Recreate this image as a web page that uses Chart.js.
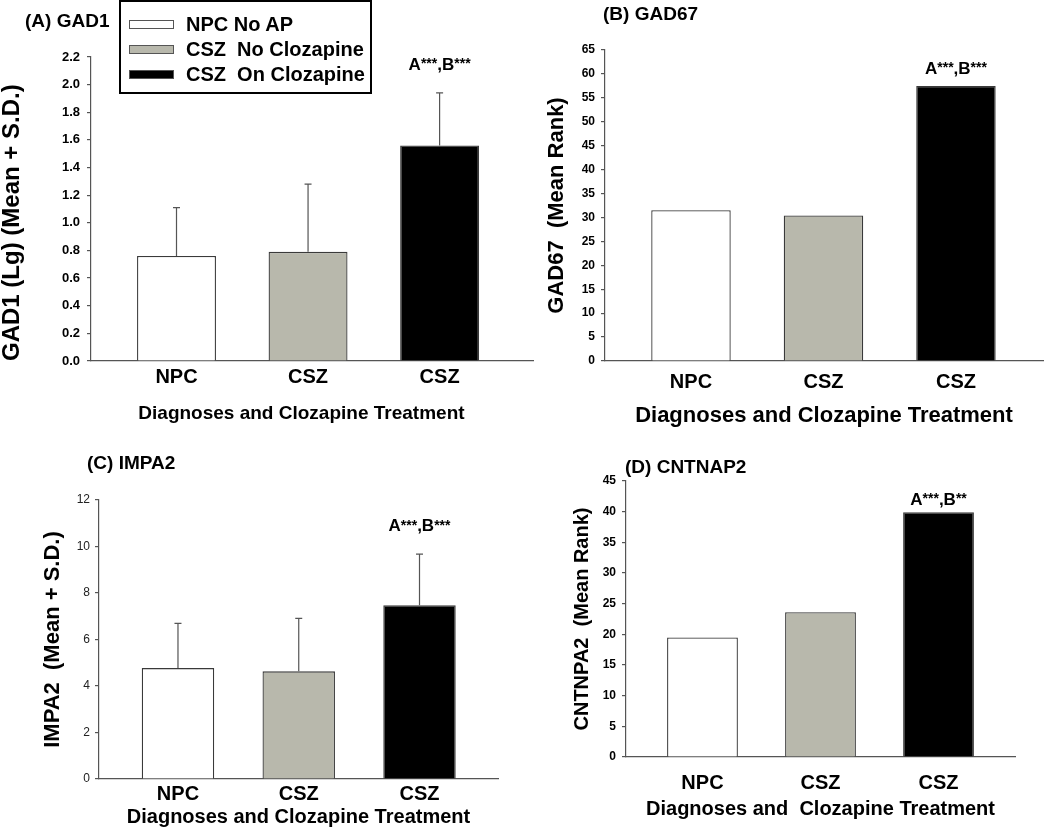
<!DOCTYPE html>
<html>
<head>
<meta charset="utf-8">
<title>Gene expression by diagnosis and clozapine treatment</title>
<script src="https://cdn.jsdelivr.net/npm/chart.js@4.4.1/dist/chart.umd.min.js"></script>
<style>
  body { margin: 0; background: #fff; font-family: "Liberation Sans", Arial, sans-serif; }
  #page { position: relative; width: 1050px; height: 827px; overflow: hidden; }
  #page canvas { position: absolute; left: 0; top: 0; }
  .ptitle { position: absolute; font-weight: bold; font-size: 19px; line-height: 19px; white-space: pre; color: #000; }
  #legend { position: absolute; left: 119px; top: 0; width: 249px; height: 90px; border: 2px solid #000; background: #fff; }
  #legend .row { position: absolute; left: 8px; height: 20px; line-height: 20px; font-size: 20px; font-weight: bold; white-space: pre; }
  #legend .sw { position: absolute; left: 0; top: 6px; width: 43px; height: 7px; border: 1px solid #555; }
  #legend .txt { position: absolute; left: 57px; top: 0; }
</style>
</head>
<body>
<div id="page">
  <canvas id="chartA" width="1050" height="827"></canvas>
  <canvas id="chartB" width="1050" height="827"></canvas>
  <canvas id="chartC" width="1050" height="827"></canvas>
  <canvas id="chartD" width="1050" height="827"></canvas>
  <div class="ptitle" style="left:25px; top:11px;">(A) GAD1</div>
  <div class="ptitle" style="left:603px; top:4px;">(B) GAD67</div>
  <div class="ptitle" style="left:87px; top:453px;">(C) IMPA2</div>
  <div class="ptitle" style="left:625px; top:457px;">(D) CNTNAP2</div>
  <div id="legend"></div>
</div>
<script>
// groups (same three in every panel)
var categories = ['NPC', 'CSZ', 'CSZ'];
var groupNames = ['NPC No AP', 'CSZ  No Clozapine', 'CSZ  On Clozapine'];
var barColors = ['#ffffff', '#b8b8ac', '#000000'];

// (A) GAD1, log, mean + SD
var gad1Mean = [0.76, 0.79, 1.56];
var gad1SD = [0.35, 0.49, 0.38];
// (B) GAD67, mean rank
var gad67Rank = [31.5, 30.4, 57.5];
// (C) IMPA2, mean + SD
var impa2Mean = [4.77, 4.63, 7.47];
var impa2SD = [1.92, 2.28, 2.20];
// (D) CNTNAP2, mean rank
var cntnap2Rank = [19.5, 23.6, 39.9];

// significance notes over the clozapine bar
var sigText = ['A***,B***', 'A***,B***', 'A***,B***', 'A***,B**'];
var sigAt = [2.14, 61.0, 10.85, 41.9];

var FONT = '"Liberation Sans", Arial, sans-serif';
Chart.defaults.font.family = FONT;

// legend
var legend = document.getElementById('legend');
groupNames.forEach(function (name, i) {
    var row = document.createElement('div');
    row.className = 'row';
    row.style.top = (12 + i * 25) + 'px';
    row.innerHTML = '<span class="sw" style="background:' + barColors[i] + '"></span><span class="txt">' + name + '</span>';
    legend.appendChild(row);
});

var errorBars = {
    id: 'errorBars',
    afterDatasetsDraw: function (chart, args, opts) {
        if (!opts.sd) return;
        var ctx = chart.ctx;
        var y = chart.scales.y;
        var vals = chart.data.datasets[0].data;
        ctx.save();
        ctx.strokeStyle = '#555';
        ctx.lineWidth = 1.2;
        chart.getDatasetMeta(0).data.forEach(function (bar, i) {
            var top = y.getPixelForValue(vals[i].y + opts.sd[i]);
            ctx.beginPath();
            ctx.moveTo(bar.x, bar.y);
            ctx.lineTo(bar.x, top);
            ctx.moveTo(bar.x - 3.5, top);
            ctx.lineTo(bar.x + 3.5, top);
            ctx.stroke();
        });
        ctx.restore();
    }
};

var sigNote = {
    id: 'sigNote',
    afterDatasetsDraw: function (chart, args, opts) {
        if (!opts.text) return;
        var ctx = chart.ctx;
        var bar = chart.getDatasetMeta(0).data[2];
        var yPix = chart.scales.y.getPixelForValue(opts.at);
        var parts = opts.text.match(/\*+|[^*]+/g);
        var big = 'bold 17px ' + FONT, small = 'bold 14px ' + FONT;
        ctx.save();
        var w = 0;
        parts.forEach(function (p) {
            ctx.font = p[0] === '*' ? small : big;
            w += ctx.measureText(p).width;
        });
        var x = bar.x - w / 2;
        ctx.fillStyle = '#000';
        ctx.textAlign = 'left';
        ctx.textBaseline = 'middle';
        parts.forEach(function (p) {
            var star = p[0] === '*';
            ctx.font = star ? small : big;
            ctx.fillText(p, x, star ? yPix - 1 : yPix);
            x += ctx.measureText(p).width;
        });
        ctx.restore();
    }
};

function panel(id, o) {
    return new Chart(document.getElementById(id), {
        type: 'bar',
        data: {
            datasets: [{
                data: o.values.map(function (v, i) { return { x: i + 1, y: v }; }),
                backgroundColor: barColors,
                borderColor: '#3a3a3a',
                borderWidth: 1.3,
                categoryPercentage: 1,
                barPercentage: 0.6
            }]
        },
        options: {
            responsive: false,
            animation: false,
            events: [],
            layout: { padding: o.pad },
            plugins: {
                legend: { display: false },
                tooltip: { enabled: false },
                errorBars: { sd: o.sd },
                sigNote: { text: o.sig, at: o.sigAt }
            },
            scales: {
                x: {
                    type: 'linear',
                    offset: false,
                    min: o.xRange[0],
                    max: o.xRange[1],
                    afterBuildTicks: function (s) {
                        s.ticks = categories.map(function (c, i) { return { value: i + 1 }; });
                    },
                    afterFit: function (s) { s.height = o.xh; },
                    grid: { display: false, drawTicks: false, offset: false },
                    border: { color: '#555', width: 1.2 },
                    ticks: {
                        callback: function (v) { return categories[v - 1]; },
                        font: { size: 20, weight: 'bold' },
                        color: '#000',
                        padding: o.catPad,
                        maxRotation: 0,
                        autoSkip: false
                    },
                    title: {
                        display: true,
                        text: o.xTitle,
                        font: { size: o.xTitleSize, weight: 'bold', lineHeight: 1 },
                        color: '#000',
                        padding: 0
                    }
                },
                y: {
                    min: 0,
                    max: o.yMax,
                    afterFit: function (s) { s.width = o.yw; },
                    grid: { drawOnChartArea: false, tickLength: 4, color: '#555', lineWidth: 1.2 },
                    border: { color: '#555', width: 1.2 },
                    ticks: {
                        stepSize: o.step,
                        callback: function (v) { return v.toFixed(o.decimals); },
                        font: { size: o.tickSize, weight: o.tickWeight },
                        color: o.tickColor,
                        padding: o.tickPad
                    },
                    title: {
                        display: true,
                        text: o.yTitle,
                        align: o.yAlign,
                        font: { size: o.yTitleSize, weight: 'bold', lineHeight: 1 },
                        color: '#000',
                        padding: 0
                    }
                }
            }
        },
        plugins: [errorBars, sigNote]
    });
}

panel('chartA', {
    values: gad1Mean, sd: gad1SD, sig: sigText[0], sigAt: sigAt[0],
    pad: { left: 0, top: 57, right: 517, bottom: 404 },
    yw: 91, xh: 62, xRange: [0.35, 3.71],
    yMax: 2.2, step: 0.2, decimals: 1, tickSize: 13, tickWeight: 'bold', tickColor: '#000', tickPad: 7,
    yTitle: 'GAD1 (Lg) (Mean + S.D.)', yTitleSize: 24, yAlign: 'start',
    xTitle: 'Diagnoses and Clozapine Treatment    ', xTitleSize: 19, catPad: 4
});

panel('chartB', {
    values: gad67Rank, sig: sigText[1], sigAt: sigAt[1],
    pad: { left: 546, top: 50, right: 7, bottom: 400 },
    yw: 59, xh: 66, xRange: [0.351, 3.657],
    yMax: 65, step: 5, decimals: 0, tickSize: 12, tickWeight: 'bold', tickColor: '#000', tickPad: 6,
    yTitle: 'GAD67  (Mean Rank)', yTitleSize: 22, yAlign: 'center',
    xTitle: 'Diagnoses and Clozapine Treatment', xTitleSize: 22, catPad: 9
});

panel('chartC', {
    values: impa2Mean, sd: impa2SD, sig: sigText[2], sigAt: sigAt[2],
    pad: { left: 42, top: 500, right: 552, bottom: 0 },
    yw: 57, xh: 48, xRange: [0.346, 3.65],
    yMax: 12, step: 2, decimals: 0, tickSize: 12, tickWeight: 'normal', tickColor: '#222', tickPad: 5,
    yTitle: 'IMPA2  (Mean + S.D.)', yTitleSize: 22, yAlign: 'center',
    xTitle: 'Diagnoses and Clozapine Treatment', xTitleSize: 20, catPad: 3
});

panel('chartD', {
    values: cntnap2Rank, sig: sigText[3], sigAt: sigAt[3],
    pad: { left: 572, top: 481, right: 35, bottom: 8 },
    yw: 54, xh: 62, xRange: [0.352, 3.648],
    yMax: 45, step: 5, decimals: 0, tickSize: 12, tickWeight: 'bold', tickColor: '#000', tickPad: 6,
    yTitle: 'CNTNPA2  (Mean Rank)', yTitleSize: 20, yAlign: 'center',
    xTitle: 'Diagnoses and  Clozapine Treatment', xTitleSize: 20, catPad: 14
});
</script>
</body>
</html>
